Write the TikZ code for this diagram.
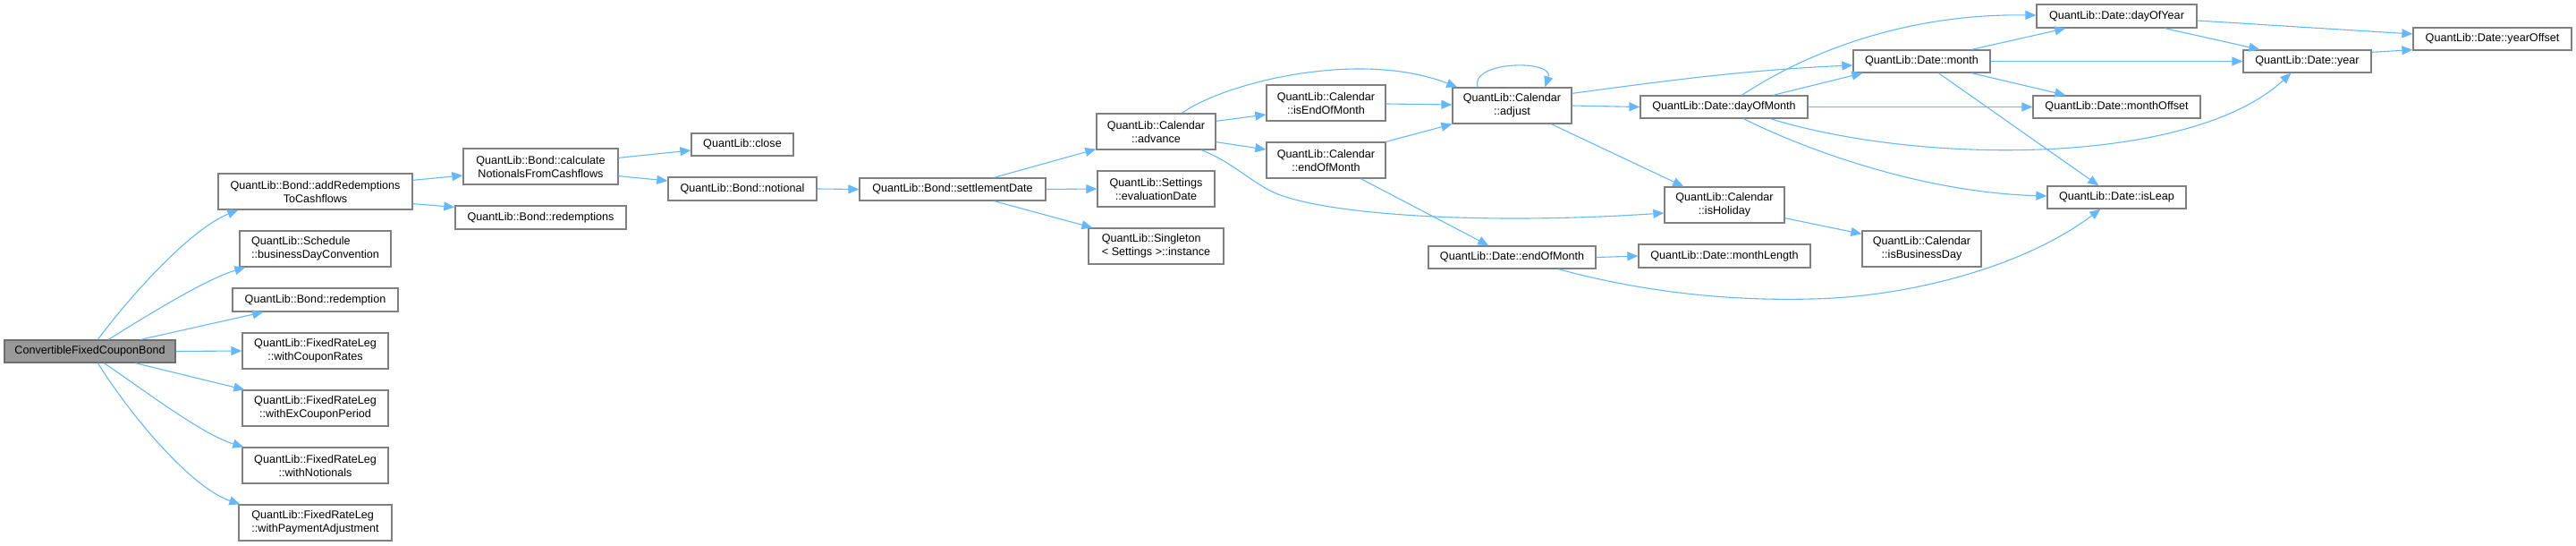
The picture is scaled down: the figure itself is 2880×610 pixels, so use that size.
\documentclass[tikz,border=0pt]{standalone}
\usepackage{fontspec}
\setmainfont{Liberation Sans}
\usetikzlibrary{arrows.meta}
\definecolor{edgeblue}{HTML}{63B8FF}
\definecolor{boxgray}{HTML}{808080}
\definecolor{rootgray}{HTML}{999999}
\tikzset{
  box/.style={draw=boxgray, fill=white, line width=1.3pt, inner sep=0pt, align=center,
    font=\fontsize{12.6}{15}\selectfont},
  rootbox/.style={box, fill=rootgray, draw=boxgray!85!black},
  edge/.style={draw=edgeblue, line width=1.1pt, -{Triangle[length=12pt,width=10pt]}},
}
\begin{document}
\begin{tikzpicture}[x=1pt,y=1pt]
\useasboundingbox (0,0) rectangle (2880,-610);
% nodes
\node[rootbox, minimum width=191pt, minimum height=25pt] (root) at (100.5,-392.5) {ConvertibleFixedCouponBond};
\node[box, minimum width=217pt, minimum height=40pt] (addR) at (352.5,-214) {QuantLib::Bond::addRedemptions\\ToCashflows};
\node[box, minimum width=169pt, minimum height=40pt, align=left] (bdc) at (352.5,-278) {QuantLib::Schedule\\::businessDayConvention};
\node[box, minimum width=185pt, minimum height=26pt] (red) at (352.5,-335) {QuantLib::Bond::redemption};
\node[box, minimum width=163pt, minimum height=40pt] (wcr) at (352.5,-392) {QuantLib::FixedRateLeg\\::withCouponRates};
\node[box, minimum width=163pt, minimum height=40pt] (wecp) at (352.5,-456) {QuantLib::FixedRateLeg\\::withExCouponPeriod};
\node[box, minimum width=163pt, minimum height=40pt] (wn) at (352.5,-520) {QuantLib::FixedRateLeg\\::withNotionals};
\node[box, minimum width=171pt, minimum height=40pt, align=left] (wpa) at (352.5,-584) {QuantLib::FixedRateLeg\\::withPaymentAdjustment};
\node[box, minimum width=173pt, minimum height=40pt] (calcN) at (604.5,-186) {QuantLib::Bond::calculate\\NotionalsFromCashflows};
\node[box, minimum width=191pt, minimum height=26pt] (reds) at (604.5,-243) {QuantLib::Bond::redemptions};
\node[box, minimum width=114pt, minimum height=25pt] (close) at (830,-161.5) {QuantLib::close};
\node[box, minimum width=166pt, minimum height=26pt] (notional) at (830,-211) {QuantLib::Bond::notional};
\node[box, minimum width=208pt, minimum height=25pt] (settle) at (1065,-211.5) {QuantLib::Bond::settlementDate};
\node[box, minimum width=133pt, minimum height=40pt] (advance) at (1292.5,-147) {QuantLib::Calendar\\::advance};
\node[box, minimum width=131pt, minimum height=40pt] (eval) at (1292.5,-211) {QuantLib::Settings\\::evaluationDate};
\node[box, minimum width=151pt, minimum height=40pt, align=left] (inst) at (1292.5,-275) {QuantLib::Singleton\\< Settings >::instance};
\node[box, minimum width=133pt, minimum height=40pt] (isEOM) at (1482.5,-115) {QuantLib::Calendar\\::isEndOfMonth};
\node[box, minimum width=133pt, minimum height=40pt] (calEOM) at (1482.5,-179) {QuantLib::Calendar\\::endOfMonth};
\node[box, minimum width=133pt, minimum height=40pt] (adjust) at (1690.5,-118) {QuantLib::Calendar\\::adjust};
\node[box, minimum width=187pt, minimum height=25pt] (dateEOM) at (1690.5,-287.5) {QuantLib::Date::endOfMonth};
\node[box, minimum width=187pt, minimum height=25pt] (dom) at (1927.5,-119.5) {QuantLib::Date::dayOfMonth};
\node[box, minimum width=134pt, minimum height=40pt] (isHol) at (1928,-229) {QuantLib::Calendar\\::isHoliday};
\node[box, minimum width=192pt, minimum height=26pt] (mLen) at (1928,-286) {QuantLib::Date::monthLength};
\node[box, minimum width=153pt, minimum height=25pt] (month) at (2148.5,-68.5) {QuantLib::Date::month};
\node[box, minimum width=133pt, minimum height=40pt] (isBD) at (2148.5,-278) {QuantLib::Calendar\\::isBusinessDay};
\node[box, minimum width=179pt, minimum height=26pt] (doy) at (2366.5,-18) {QuantLib::Date::dayOfYear};
\node[box, minimum width=187pt, minimum height=25pt] (mOff) at (2366.5,-119.5) {QuantLib::Date::monthOffset};
\node[box, minimum width=155pt, minimum height=25pt] (isLeap) at (2366.5,-220.5) {QuantLib::Date::isLeap};
\node[box, minimum width=143pt, minimum height=25pt] (year) at (2579.5,-68.5) {QuantLib::Date::year};
\node[box, minimum width=177pt, minimum height=25pt] (yOff) at (2786.5,-43.5) {QuantLib::Date::yearOffset};
% edges from root
\draw[edge] ([xshift=105pt]root.north west) .. controls (150,-325) and (215,-255) .. ([xshift=23pt]addR.south west);
\draw[edge] ([xshift=117pt]root.north west) .. controls (165,-352) and (230,-312) .. ([xshift=7pt]bdc.south west);
\draw[edge] ([xshift=153pt]root.north west) -- ([xshift=35pt]red.south west);
\draw[edge] (root.east) -- (wcr.west);
\draw[edge] ([xshift=147pt]root.south west) -- ([xshift=3pt]wecp.north west);
\draw[edge] ([xshift=112pt]root.south west) .. controls (160,-435) and (225,-485) .. ([xshift=2pt]wn.north west);
\draw[edge] ([xshift=105pt]root.south west) .. controls (150,-470) and (215,-545) .. ([xshift=2pt]wpa.north west);
% second level
\draw[edge] ([yshift=-8pt]addR.north east) -- ([yshift=-10pt]calcN.west);
\draw[edge] ([yshift=7pt]addR.south east) -- ([yshift=-2pt]reds.north west);
\draw[edge] ([yshift=-11pt]calcN.north east) -- ([yshift=-6.5pt]close.west);
\draw[edge] ([yshift=10pt]calcN.south east) -- ([yshift=9pt]notional.west);
\draw[edge] (notional.east) -- (settle.west);
\draw[edge] ([xshift=151pt]settle.north west) -- ([yshift=1pt]advance.south west);
\draw[edge] (settle.east) -- (eval.west);
\draw[edge] ([xshift=151pt]settle.south west) -- ([xshift=5pt]inst.north west);
% advance
\draw[edge] ([xshift=96pt]advance.north west) .. controls (1370,-92) and (1520,-55) .. ([xshift=6pt]adjust.north west);
\draw[edge] ([yshift=-9pt]advance.north east) -- ([yshift=-13pt]isEOM.west);
\draw[edge] ([yshift=9pt]advance.south east) -- ([yshift=12pt]calEOM.west);
\draw[edge] ([xshift=118pt]advance.south west) .. controls (1375,-180) and (1395,-200) .. (1420,-213) .. controls (1470,-239) and (1650,-252) .. ([yshift=-9pt]isHol.west);
\draw[edge] ([yshift=-1pt]isEOM.east) -- ([yshift=1pt]adjust.west);
\draw[edge] (calEOM.north east) -- (adjust.south west);
\draw[edge] ([xshift=106pt]calEOM.south west) -- ([xshift=68pt]dateEOM.north west);
% adjust
\draw[edge] ([xshift=29pt]adjust.north west) .. controls (1642,-68) and (1738,-66) .. ([xshift=104pt]adjust.north west);
\draw[edge] ([yshift=-7pt]adjust.north east) .. controls (1850,-92) and (1950,-78) .. ([yshift=-4.5pt]month.west);
\draw[edge] (adjust.east) -- (dom.west);
\draw[edge] ([xshift=111pt]adjust.south west) -- ([xshift=22pt]isHol.north west);
\draw[edge] (dateEOM.east) -- (mLen.west);
\draw[edge] ([xshift=146pt]dateEOM.south west) .. controls (1850,-330) and (1950,-336) .. (2025,-334) .. controls (2130,-332) and (2260,-300) .. ([xshift=60pt]isLeap.south west);
\draw[edge] ([yshift=6pt]isHol.south east) -- ([yshift=-4pt]isBD.north west);
% dayOfMonth
\draw[edge] ([xshift=114pt]dom.north west) .. controls (2010,-65) and (2120,-15) .. ([yshift=1pt]doy.west);
\draw[edge] ([xshift=149pt]dom.north west) -- ([xshift=11pt]month.south west);
\draw[edge] (dom.east) -- (mOff.west);
\draw[edge] ([xshift=146pt]dom.south west) .. controls (2150,-185) and (2450,-185) .. ([xshift=54pt]year.south west);
\draw[edge] ([xshift=116pt]dom.south west) .. controls (2020,-168) and (2150,-215) .. ([yshift=1.5pt]isLeap.west);
% month
\draw[edge] ([xshift=133pt]month.north west) -- ([xshift=33pt]doy.south west);
\draw[edge] (month.east) -- (year.west);
\draw[edge] ([xshift=133pt]month.south west) -- ([xshift=37pt]mOff.north west);
\draw[edge] ([xshift=96pt]month.south west) -- ([xshift=58pt]isLeap.north west);
% dayOfYear, year
\draw[edge] ([xshift=144pt]doy.south west) -- ([xshift=19pt]year.north west);
\draw[edge] ([yshift=-5pt]doy.east) -- ([yshift=5.5pt]yOff.west);
\draw[edge] ([yshift=-3pt]year.north east) -- ([yshift=1pt]yOff.south west);
\end{tikzpicture}
\end{document}
